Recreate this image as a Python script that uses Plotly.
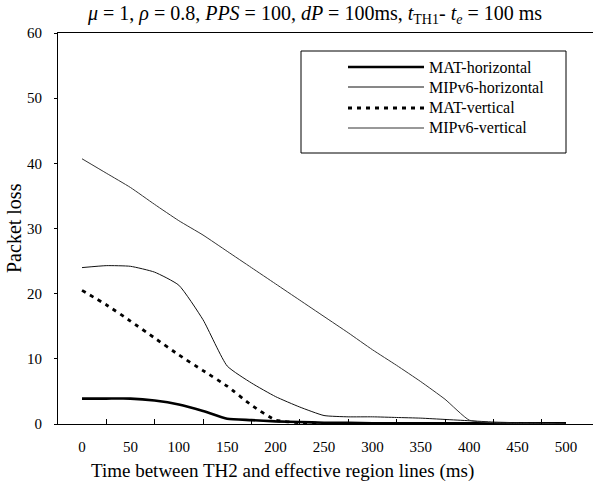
import plotly.graph_objects as go

x_ms = [0, 25, 50, 75, 100, 125, 150, 175, 200, 225, 250, 275, 300, 325, 350, 375, 400, 425, 450, 475, 500]

mat_horizontal = [3.9, 3.9, 3.9, 3.6, 3.0, 2.0, 0.8, 0.6, 0.4, 0.3, 0.2, 0.2, 0.1, 0.1, 0.1, 0.1, 0.1, 0.1, 0.1, 0.1, 0.1]
mipv6_horizontal = [24.0, 24.3, 24.2, 23.3, 21.3, 16.0, 8.9, 6.3, 4.2, 2.6, 1.3, 1.1, 1.1, 1.0, 0.9, 0.7, 0.5, 0.3, 0.2, 0.1, 0.1]
mat_vertical = [20.5, 18.3, 15.8, 13.2, 10.6, 8.2, 5.8, 2.9, 0.6, 0.2, 0.1, 0.1, 0.1, 0.1, 0.1, 0.1, 0.1, 0.1, 0.1, 0.1, 0.1]
mipv6_vertical = [40.7, 38.5, 36.3, 33.7, 31.2, 29.0, 26.5, 24.0, 21.5, 19.0, 16.5, 14.0, 11.4, 9.0, 6.5, 3.8, 0.6, 0.2, 0.1, 0.1, 0.0]

x_ticks = [0, 50, 100, 150, 200, 250, 300, 350, 400, 450, 500]
x_minor = [25, 75, 125, 175, 225, 275, 325, 375, 425, 475]
y_ticks = [0, 10, 20, 30, 40, 50, 60]

series = [
    ("MAT-horizontal", mat_horizontal, dict(color="black", width=2.6)),
    ("MIPv6-horizontal", mipv6_horizontal, dict(color="#111111", width=1)),
    ("MAT-vertical", mat_vertical, dict(color="black", width=2.8, dash="4px,5px")),
    ("MIPv6-vertical", mipv6_vertical, dict(color="#333333", width=1)),
]

FONT = "Liberation Serif"
FW, FH = 593, 484
L, R, T, B = 58, 593, 33, 424
W, H = R - L, B - T
px = lambda v: (v - L) / W
py = lambda v: (B - v) / H

fig = go.Figure()
for name, ys, ln in series:
    fig.add_trace(go.Scatter(x=x_ms, y=ys, mode="lines", name=name,
                             line=dict(shape="spline", smoothing=0.5, **ln)))

# custom legend (box, line samples, labels) in paper coordinates
fig.add_shape(type="rect", xref="paper", yref="paper", x0=px(301), x1=px(566), y0=py(153), y1=py(51),
              line=dict(color="black", width=1), fillcolor="white", layer="above")
rows = [67, 87, 108, 128]
for (name, ys, ln), ry in zip(series, rows):
    fig.add_shape(type="line", xref="paper", yref="paper", x0=px(348), x1=px(424), y0=py(ry), y1=py(ry),
                  line=ln, layer="above")
    fig.add_annotation(xref="paper", yref="paper", x=px(427), y=py(ry), text=name, showarrow=False,
                       xanchor="left", yanchor="middle", font=dict(family=FONT, size=16, color="black"))

# axis titles
fig.add_annotation(xref="paper", yref="paper", x=px(282), y=py(471), text="Time between TH2 and effective region lines (ms)",
                   showarrow=False, xanchor="center", yanchor="middle", font=dict(family=FONT, size=19, color="black"))
fig.add_annotation(xref="paper", yref="paper", x=px(14), y=py(228), text="Packet loss", textangle=-90,
                   showarrow=False, xanchor="center", yanchor="middle", font=dict(family=FONT, size=20, color="black"))

fig.update_layout(
    width=FW, height=FH,
    margin=dict(l=L, r=FW - R, t=T, b=FH - B, autoexpand=False),
    paper_bgcolor="white", plot_bgcolor="white",
    showlegend=False,
    font=dict(family=FONT, color="black"),
    title=dict(text="<i>μ</i> = 1, <i>ρ</i> = 0.8, <i>PPS</i> = 100, <i>dP</i> = 100ms, <i>t</i><sub>TH1</sub>- <i>t<sub>e</sub></i> = 100 ms",
               xref="container", yref="container", x=315 / FW, xanchor="center",
               y=1 - 13 / FH, yanchor="middle", font=dict(size=20)),
)
fig.update_xaxes(range=[-24.8, 527.9], tickvals=x_ticks, ticks="", showgrid=False, zeroline=False,
                 showline=True, linecolor="black", linewidth=1, mirror=True, automargin=False,
                 minor=dict(tickvals=x_minor, ticks="inside", ticklen=5, tickcolor="black"),
                 tickfont=dict(size=15), ticklabelstandoff=9)
fig.update_yaxes(range=[0, 60], tickvals=y_ticks, ticks="outside", ticklen=3, tickcolor="black",
                 showgrid=False, zeroline=False, showline=True, linecolor="black", linewidth=1, mirror=False,
                 automargin=False, tickfont=dict(size=15), ticklabelstandoff=9)

fig.write_html("out.html", config={"displayModeBar": False},
               post_script="document.body.style.margin='0';")
